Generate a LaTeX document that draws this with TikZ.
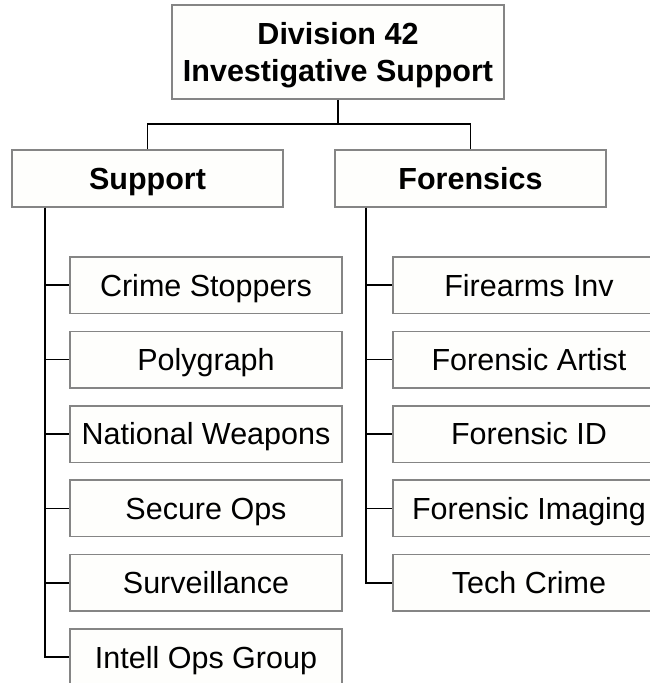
\documentclass[tikz,border=0pt]{standalone}
\usepackage{fontspec}
\setmainfont{Liberation Sans}
\begin{document}
\begin{tikzpicture}[x=1pt,y=-1pt,
  unit/.style={draw=boxgray,line width=1.5pt,fill=boxfill,inner sep=0pt,
    text height=21.8pt,text depth=0pt,
    font=\fontsize{30.5}{37}\selectfont,align=center},
  headbox/.style={unit,minimum width=332pt,minimum height=94pt,text height=58.8pt,
    font=\fontsize{30.5}{37}\selectfont\bfseries},
  groupbox/.style={unit,minimum width=271pt,minimum height=57pt,font=\fontsize{30.5}{37}\selectfont\bfseries},
  teambox/.style={unit,minimum width=272pt,minimum height=56.5pt},
  link/.style={draw=black,line width=1.6pt}]
\definecolor{boxgray}{HTML}{858585}
\definecolor{boxfill}{HTML}{FEFEFC}
\useasboundingbox (0,0) rectangle (650,683);
\clip (0,0) rectangle (650,683);

% top of the hierarchy
\node[headbox] (div) at (338,52) {Division 42\\Investigative Support};
\coordinate (bus) at (0,124);

% the two groups
\node[groupbox] (support) at (147.5,178.5) {Support};
\node[groupbox] (forensics) at (470.5,178.5) {Forensics};

% teams under Support
\node[teambox] (s1) at (206,285.2) {Crime Stoppers};
\node[teambox] (s2) at (206,359.6) {Polygraph};
\node[teambox] (s3) at (206,434.0) {National Weapons};
\node[teambox] (s4) at (206,508.4) {Secure Ops};
\node[teambox] (s5) at (206,582.8) {Surveillance};
\node[teambox] (s6) at (206,657.2) {Intell Ops Group};

% teams under Forensics
\node[teambox] (f1) at (529,285.2) {Firearms Inv};
\node[teambox] (f2) at (529,359.6) {Forensic Artist};
\node[teambox] (f3) at (529,434.0) {Forensic ID};
\node[teambox] (f4) at (529,508.4) {Forensic Imaging};
\node[teambox] (f5) at (529,582.8) {Tech Crime};

% connectors
\draw[link] (div.south) -- (div.south |- bus);
\draw[link] (support.north) |- (forensics.north |- bus) -- (forensics.north);
\foreach \t in {s1,s2,s3,s4,s5,s6}
  \draw[link] ([xshift=34pt]support.south west) |- (\t.west);
\foreach \t in {f1,f2,f3,f4,f5}
  \draw[link] ([xshift=32pt]forensics.south west) |- (\t.west);
\end{tikzpicture}
\end{document}
